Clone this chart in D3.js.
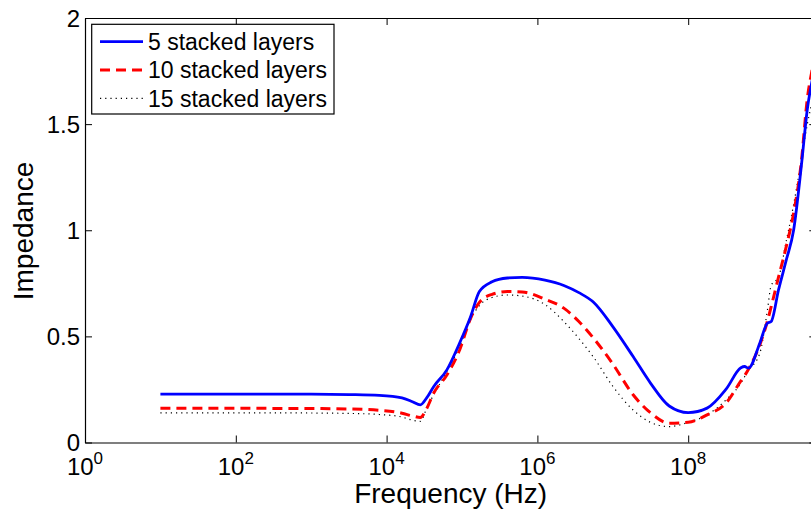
<!DOCTYPE html>
<html>
<head>
<meta charset="utf-8">
<script src="https://cdn.jsdelivr.net/npm/d3@7"></script>
<style>
  html, body { margin: 0; padding: 0; background: #fff; overflow: hidden; }
  svg { display: block; font-family: "Liberation Sans", Arial, Helvetica, sans-serif; }
</style>
</head>
<body>
<svg id="chart" width="811" height="514"></svg>
<script>
// Frequency sweep (Hz) shared by all three layer configurations
const frequency = [
  1e1, 1e2, 1e3, 3.2e3, 8e3, 1.6e4, 2.2e4, 2.8e4, 3.4e4, 4.2e4,
  6.3e4, 9.3e4, 1.3e5, 1.7e5, 2.5e5, 4e5, 6.3e5, 1.26e6, 2.24e6, 3.55e6,
  5.6e6, 1e7, 1.86e7, 3.16e7, 5.6e7, 1e8, 1.78e8, 3.16e8, 5e8, 5.6e8,
  6.3e8, 8.9e8, 1.12e9, 1.26e9, 1.58e9, 2e9, 2.5e9, 3.16e9, 3.8e9, 4.47e9, 5e9
];

// Impedance for each stack
const layers5 = [
  0.228, 0.228, 0.228, 0.226, 0.222, 0.21, 0.192, 0.177, 0.21, 0.263,
  0.342, 0.469, 0.593, 0.711, 0.757, 0.775, 0.778, 0.765, 0.74, 0.706,
  0.66, 0.546, 0.405, 0.28, 0.172, 0.141, 0.162, 0.25, 0.352, 0.358,
  0.35, 0.468, 0.562, 0.57, 0.72, 0.86, 1.0, 1.30, 1.57, 1.72, 1.82
];
const layers10 = [
  0.161, 0.161, 0.16, 0.158, 0.152, 0.138, 0.125, 0.118, 0.16, 0.232,
  0.318, 0.436, 0.585, 0.66, 0.698, 0.711, 0.709, 0.675, 0.633, 0.57,
  0.49, 0.37, 0.225, 0.14, 0.091, 0.095, 0.13, 0.185, 0.29, 0.315,
  0.345, 0.46, 0.57, 0.64, 0.78, 0.924, 1.08, 1.32, 1.62, 1.77, 1.88
];
const layers15 = [
  0.14, 0.14, 0.139, 0.137, 0.132, 0.12, 0.105, 0.1, 0.161, 0.225,
  0.334, 0.452, 0.58, 0.645, 0.683, 0.695, 0.69, 0.65, 0.57, 0.49,
  0.40, 0.265, 0.153, 0.095, 0.075, 0.095, 0.13, 0.2, 0.28, 0.31,
  0.34, 0.42, 0.62, 0.74, 0.78, 0.95, 1.12, 1.33, 1.50, 1.62, 1.72
];

const seriesNames = ["5 stacked layers", "10 stacked layers", "15 stacked layers"];
const xTickValues = [1e0, 1e2, 1e4, 1e6, 1e8];
const xTickExponents = ["0", "2", "4", "6", "8"];
const yTickValues = [0, 0.5, 1, 1.5, 2];
const yTickLabels = ["0", "0.5", "1", "1.5", "2"];

const svg = d3.select("#chart");
const plotLeft = 85, plotRight = 816.3, plotTop = 18, plotBottom = 442.5;
const tickLen = 7;

const x = d3.scaleLog().domain([1, 5e9]).range([plotLeft, plotRight]);
const y = d3.scaleLinear().domain([0, 2]).range([plotBottom, plotTop]);

svg.append("defs").append("clipPath").attr("id", "plotClip")
  .append("rect").attr("x", plotLeft).attr("y", plotTop)
  .attr("width", plotRight - plotLeft).attr("height", plotBottom - plotTop);

// Axes box with inward ticks on all four sides
const bottomAxis = d3.axisBottom(x).tickValues(xTickValues).tickSizeInner(-tickLen).tickSizeOuter(0).tickFormat(() => "");
const topAxis = d3.axisTop(x).tickValues(xTickValues).tickSizeInner(-tickLen).tickSizeOuter(0).tickFormat(() => "");
const leftAxis = d3.axisLeft(y).tickValues(yTickValues).tickSizeInner(-tickLen).tickSizeOuter(0).tickFormat(() => "");
const rightAxis = d3.axisRight(y).tickValues(yTickValues).tickSizeInner(-tickLen).tickSizeOuter(0).tickFormat(() => "");

function styleAxis(g) {
  g.selectAll("path.domain").attr("stroke", "#000").attr("stroke-width", 1.2);
  g.selectAll(".tick line").attr("stroke", "#000").attr("stroke-width", 1);
}
svg.append("g").attr("transform", `translate(0,${plotBottom})`).call(bottomAxis).call(styleAxis);
svg.append("g").attr("transform", `translate(0,${plotTop})`).call(topAxis).call(styleAxis);
svg.append("g").attr("transform", `translate(${plotLeft},0)`).call(leftAxis).call(styleAxis);
svg.append("g").attr("transform", `translate(${plotRight},0)`).call(rightAxis).call(styleAxis);

// Tick labels: powers of ten on x, plain numbers on y
const xLabels = svg.append("g");
xTickValues.forEach((v, i) => {
  const t = xLabels.append("text")
    .attr("x", x(v)).attr("y", 475)
    .attr("text-anchor", "middle")
    .attr("font-size", 24).attr("fill", "#000");
  t.append("tspan").text("10");
  t.append("tspan").attr("dy", -11).attr("font-size", 17).text(xTickExponents[i]);
});
const yLabels = svg.append("g");
yTickValues.forEach((v, i) => {
  yLabels.append("text")
    .attr("x", 80).attr("y", y(v))
    .attr("dy", "0.36em")
    .attr("text-anchor", "end")
    .attr("font-size", 24).attr("fill", "#000")
    .text(yTickLabels[i]);
});

// Axis titles
svg.append("text")
  .attr("x", (plotLeft + plotRight) / 2).attr("y", 503)
  .attr("text-anchor", "middle").attr("font-size", 28).attr("fill", "#000")
  .text("Frequency (Hz)");
svg.append("text")
  .attr("transform", `translate(33,231) rotate(-90)`)
  .attr("text-anchor", "middle").attr("font-size", 28).attr("fill", "#000")
  .text("Impedance");

// Curves
const styles = [
  { values: layers5,  color: "#0000ff", width: 2.8, dash: null },
  { values: layers10, color: "#ff0000", width: 3,   dash: "10,6" },
  { values: layers15, color: "#000000", width: 1.2, dash: "1.2,4" }
];
const line = d3.line()
  .x(d => x(d[0]))
  .y(d => y(d[1]))
  .curve(d3.curveMonotoneX);

const plot = svg.append("g").attr("clip-path", "url(#plotClip)");
// draw back-to-front so the solid curve sits on top
[2, 1, 0].forEach(i => {
  const s = styles[i];
  plot.append("path")
    .datum(frequency.map((f, j) => [f, s.values[j]]))
    .attr("fill", "none")
    .attr("stroke", s.color)
    .attr("stroke-width", s.width)
    .attr("stroke-dasharray", s.dash)
    .attr("stroke-linejoin", "round")
    .attr("d", line);
});

// Legend
const legend = svg.append("g");
legend.append("rect")
  .attr("x", 91.7).attr("y", 24.3).attr("width", 242.3).attr("height", 89.7)
  .attr("fill", "#fff").attr("stroke", "#000").attr("stroke-width", 1.2);
seriesNames.forEach((name, i) => {
  const cy = 41.7 + i * 28.3;
  const s = styles[i];
  legend.append("line")
    .attr("x1", 100).attr("x2", 143).attr("y1", cy).attr("y2", cy)
    .attr("stroke", s.color).attr("stroke-width", s.width)
    .attr("stroke-dasharray", s.dash);
  legend.append("text")
    .attr("x", 148).attr("y", cy + 8.3)
    .attr("font-size", 23).attr("fill", "#000")
    .text(name);
});
</script>
</body>
</html>
